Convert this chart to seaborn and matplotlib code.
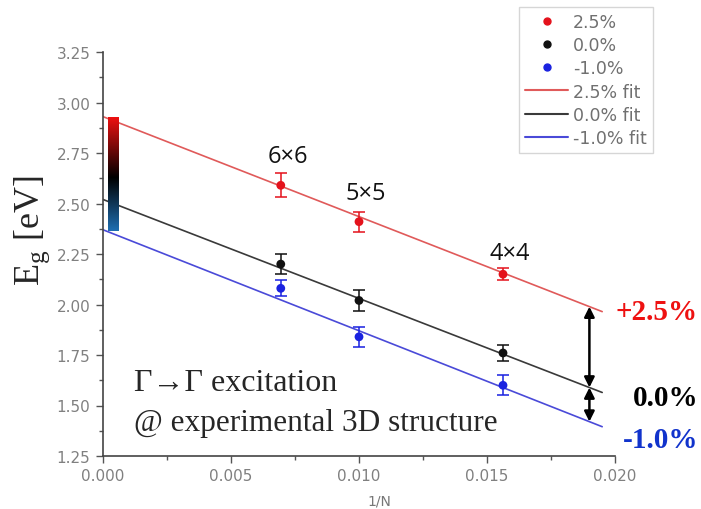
import numpy as np
import pandas as pd
import matplotlib
matplotlib.use("Agg")
import matplotlib.pyplot as plt
from matplotlib.colors import LinearSegmentedColormap
from matplotlib.ticker import MultipleLocator, FormatStrFormatter
from matplotlib.transforms import blended_transform_factory
from matplotlib.lines import Line2D
import seaborn as sns

# ---- data ----
sizes = ["6×6", "5×5", "4×4"]
inv_n = [1/144, 1/100, 1/64]
strains = ["2.5%", "0.0%", "-1.0%"]
eg_p25 = [2.59, 2.41, 2.15]
eg_0 = [2.20, 2.02, 1.76]
eg_m10 = [2.08, 1.84, 1.60]
err_p25 = [0.06, 0.05, 0.03]
err_0 = [0.05, 0.05, 0.04]
err_m10 = [0.04, 0.05, 0.05]
fit_intercept = [2.93, 2.52, 2.37]
fit_slope = [-49.5, -49.0, -50.0]
fit_xmax = 0.0195
side_labels = ["+2.5%", "0.0%", "-1.0%"]

point_colors = ["#e4121c", "#111111", "#1a22e0"]
fit_colors = ["#e05a5a", "#3a3a3a", "#4a4ad8"]
label_colors = ["#ee1111", "#000000", "#1133cc"]

sns.set_style("ticks")
plt.rcParams["font.family"] = ["DejaVu Sans"]

fig = plt.figure(figsize=(7.01, 5.10), dpi=100)
ax = fig.add_axes([103/701, 1-457/510, 512/701, 404/510])

rows = []
for s, vals, errs in zip(strains, [eg_p25, eg_0, eg_m10], [err_p25, err_0, err_m10]):
    for x, y, e in zip(inv_n, vals, errs):
        rows.append({"x": x, "y": y, "err": e, "strain": s})
df = pd.DataFrame(rows)

fit_rows = []
for s, b, m in zip(strains, fit_intercept, fit_slope):
    for x in [0.0, fit_xmax]:
        fit_rows.append({"x": x, "y": b + m*x, "strain": s + " fit"})
fdf = pd.DataFrame(fit_rows)

sns.lineplot(data=fdf, x="x", y="y", hue="strain", palette=fit_colors,
             lw=1.2, ax=ax, legend=False)
for s, c in zip(strains, point_colors):
    sub = df[df.strain == s]
    ax.errorbar(sub.x, sub.y, yerr=sub.err, fmt="none", ecolor=c, elinewidth=1.3,
                capsize=4, capthick=1.3, alpha=0.85)
sns.scatterplot(data=df, x="x", y="y", hue="strain", palette=point_colors,
                s=40, edgecolor="none", ax=ax, legend=False, zorder=3)

ax.set_xlim(0, 0.020)
ax.set_ylim(1.25, 3.25)
ax.xaxis.set_major_locator(MultipleLocator(0.005))
ax.xaxis.set_minor_locator(MultipleLocator(0.0025))
ax.yaxis.set_major_locator(MultipleLocator(0.25))
ax.yaxis.set_minor_locator(MultipleLocator(0.125))
ax.xaxis.set_major_formatter(FormatStrFormatter("%.3f"))
ax.yaxis.set_major_formatter(FormatStrFormatter("%.2f"))
ax.tick_params(axis="both", which="major", direction="out", length=5, width=1,
               colors="#555555", labelsize=11, labelcolor="#808080", pad=4)
ax.tick_params(axis="both", which="minor", direction="out", length=3, width=1, colors="#555555")
for sp in ["top", "right"]:
    ax.spines[sp].set_visible(False)
for sp in ["left", "bottom"]:
    ax.spines[sp].set_color("#444444")
    ax.spines[sp].set_linewidth(1.2)

ax.set_xlabel("1/N", fontsize=10, color="#777777")
ax.xaxis.set_label_coords(0.54, -0.092)
ax.set_ylabel(r"E$_\mathregular{g}$ [eV]", fontsize=26, family="Liberation Serif")
ax.yaxis.set_label_coords(-0.10, 0.56)

# legend
leg_handles = [Line2D([], [], ls="none", marker="o", ms=5, color=c) for c in point_colors]
leg_handles += [Line2D([], [], color=c, lw=1.5) for c in fit_colors]
leg_labels = strains + [s + " fit" for s in strains]
leg = fig.legend(leg_handles, leg_labels, loc="lower left",
                 bbox_to_anchor=(519/701, 1 - 154/510), frameon=True, fancybox=False,
                 fontsize=12.5, labelspacing=0.3, handlelength=2.5, handletextpad=0.25,
                 borderpad=0.35, borderaxespad=0)
leg.get_frame().set_edgecolor("#cccccc")
leg.get_frame().set_linewidth(1.0)
for t in leg.get_texts():
    t.set_color("#707070")

# size labels
size_offsets = [21, 21, 15]
for lbl, x, y, off in zip(sizes, inv_n, eg_p25, size_offsets):
    ax.annotate(lbl, (x, y), xytext=(5, off), textcoords="offset points",
                ha="center", va="center", fontsize=17, family="Open Sans", color="#111111")

# side labels (right-aligned near figure edge)
tr = blended_transform_factory(fig.transFigure, ax.transData)
side_dy = [0.0, -0.025, -0.065]
for lbl, b, m, c, dy in zip(side_labels, fit_intercept, fit_slope, label_colors, side_dy):
    ax.text(698/701, b + m*fit_xmax + dy, lbl, transform=tr, ha="right", va="center",
            fontsize=21, fontweight="bold", family="Liberation Serif", color=c,
            clip_on=False)

# arrows
xa = 0.019
ys = [b + m*xa for b, m in zip(fit_intercept, fit_slope)]
for y0, y1 in [(ys[0], ys[1]), (ys[1], ys[2])]:
    ax.annotate("", xy=(xa, y1), xytext=(xa, y0),
                arrowprops=dict(arrowstyle="<|-|>", color="black", lw=1.8,
                                mutation_scale=15, shrinkA=0, shrinkB=0))

# text box
ax.text(0.0012, 1.615, "Γ→Γ excitation", fontsize=23, family="Liberation Serif",
        ha="left", va="center")
ax.text(0.0012, 1.415, "@ experimental 3D structure", fontsize=22.5, family="Liberation Serif",
        ha="left", va="center")

# gradient strip
cax = fig.add_axes([108/701, 1-232/510, 11/701, 114/510])
cmap = LinearSegmentedColormap.from_list("strain", [(0, "#1f6fb2"), (0.47, "#000000"), (1, "#ee1111")])
grad = np.linspace(0, 1, 256).reshape(-1, 1)
cax.imshow(grad, aspect="auto", cmap=cmap, origin="lower")
cax.set_axis_off()

fig.savefig("out.png", dpi=100)
